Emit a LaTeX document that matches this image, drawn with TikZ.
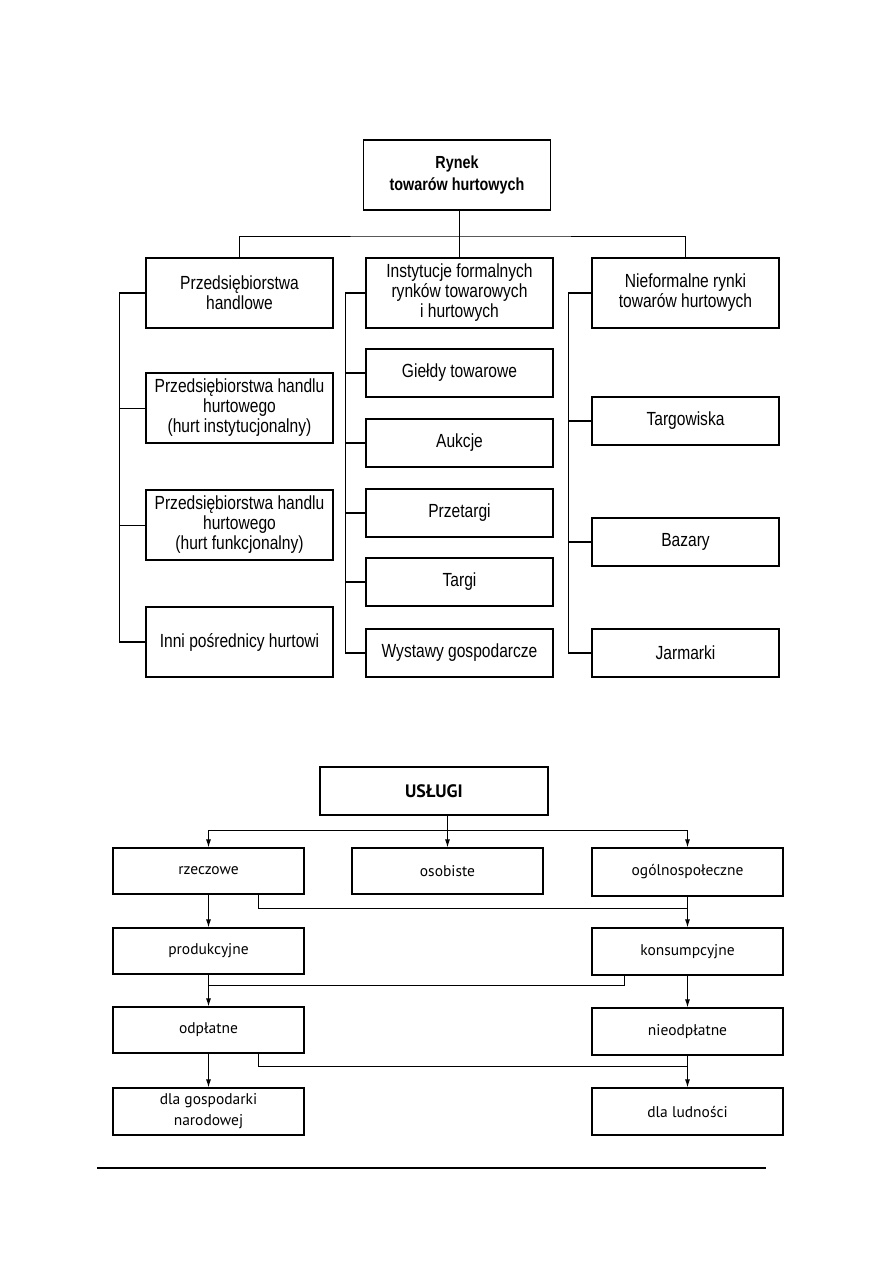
\documentclass[tikz,border=0pt]{standalone}
\usepackage{fontspec}
\newfontfamily\arialfont[FakeStretch=0.82]{Liberation Sans}
\newfontfamily\myriadfont{PT Sans}
\usetikzlibrary{arrows.meta,positioning,calc}

\begin{document}
\begin{tikzpicture}[
  x=1pt, y=-1pt,
  box/.style={draw, line width=1.2pt, align=center, minimum width=187pt, inner sep=2pt, font=\arialfont\fontsize{19}{20}\selectfont},
  tall/.style={box, minimum height=70pt},
  flat/.style={box, minimum height=48pt},
  rootbox/.style={tall, font=\arialfont\bfseries\fontsize{17.5}{22}\selectfont},
  ubox/.style={draw, line width=1.2pt, align=center, minimum width=191pt, minimum height=46pt, inner sep=2pt, font=\myriadfont\fontsize{15.5}{21}\selectfont},
  link/.style={line width=1pt},
  bar/.style={line width=1.8pt},
  arrow/.style={-{Latex[length=8pt,width=5pt]}, line width=1pt}
]
\useasboundingbox (0,0) rectangle (893,1263);

% rynek towarow hurtowych
\node[rootbox] (rynek) at (457,175) {Rynek\\towarów hurtowych};
\node[tall] (handl) at (239.5,293) {Przedsiębiorstwa\\handlowe};
\node[tall] (instyt) at (459.5,293) {Instytucje formalnych\\rynków towarowych\\i hurtowych};
\node[tall] (niefor) at (685.5,293) {Nieformalne rynki\\towarów hurtowych};
\coordinate (bus) at (459,236);
\draw[link] (bus |- rynek.south) -- (bus);
\draw[link] (handl.north) |- (bus) -| (niefor.north);
\draw[link] (bus) -- (bus -| instyt.north) -- (instyt.north);

\node[tall] (hinst) at (239.5,408) {Przedsiębiorstwa handlu\\hurtowego\\(hurt instytucjonalny)};
\node[tall] (hfunk) at (239.5,525) {Przedsiębiorstwa handlu\\hurtowego\\(hurt funkcjonalny)};
\node[tall] (inni) at (239.5,642) {Inni pośrednicy hurtowi};
\draw[bar] (handl.west) -- ++(-26,0) coordinate (lbar) -- (lbar |- inni.west) -- (inni.west);
\foreach \n in {hinst,hfunk} {\draw[link] (\n.west) -- (\n.west -| lbar);}

\node[flat] (gieldy) at (459.5,373) {Giełdy towarowe};
\node[flat] (aukcje) at (459.5,443) {Aukcje};
\node[flat] (przet) at (459.5,513) {Przetargi};
\node[flat] (targi) at (459.5,582) {Targi};
\node[flat] (wystawy) at (459.5,653) {Wystawy gospodarcze};
\draw[bar] (instyt.west) -- ++(-20,0) coordinate (mbar) -- (mbar |- wystawy.west) -- (wystawy.west);
\foreach \n in {gieldy,aukcje,przet,targi} {\draw[bar] (\n.west) -- (\n.west -| mbar);}

\node[flat] (targow) at (685.5,421) {Targowiska};
\node[flat] (bazary) at (685.5,542) {Bazary};
\node[flat] (jarm) at (685.5,653) {Jarmarki};
\draw[bar] (niefor.west) -- ++(-23,0) coordinate (rbar) -- (rbar |- jarm.west) -- (jarm.west);
\foreach \n in {targow,bazary} {\draw[bar] (\n.west) -- (\n.west -| rbar);}

% uslugi
\node[ubox, minimum width=228pt, minimum height=48pt, font=\myriadfont\bfseries\fontsize{18}{21}\selectfont] (uslugi) at (434,791) {USŁUGI};
\node[ubox] (rzecz) at (208.5,871) {rzeczowe};
\node[ubox] (osob) at (447.5,871) {osobiste};
\node[ubox, minimum height=48pt] (ogol) at (687.5,872) {ogólnospołeczne};
\coordinate (ubus) at (448,830);
\draw[arrow] (osob.north |- uslugi.south) -- (osob.north);
\draw[arrow] (ubus) -| (rzecz.north);
\draw[arrow] (ubus) -| (ogol.north);

\node[ubox] (prod) at (208.5,951) {produkcyjne};
\node[ubox, minimum height=47pt] (kons) at (687.5,951.5) {konsumpcyjne};
\coordinate (j1) at (687.5,908);
\draw[arrow] (rzecz) -- (prod);
\draw[arrow] (ogol) -- (kons);
\draw[link] ([xshift=50pt]rzecz.south) |- (j1);

\node[ubox] (odpl) at (208.5,1030) {odpłatne};
\node[ubox, minimum height=47pt] (nieodpl) at (687.5,1031.5) {nieodpłatne};
\coordinate (j2) at (208.5,985);
\draw[arrow] (prod) -- (odpl);
\draw[arrow] (kons) -- (nieodpl);
\draw[link] ([xshift=-63pt]kons.south) |- (j2);

\node[ubox, minimum height=47pt] (gosp) at (208.5,1111.5) {dla gospodarki\\narodowej};
\node[ubox, minimum height=47pt] (ludn) at (687.5,1111.5) {dla ludności};
\coordinate (j3) at (687.5,1066);
\draw[arrow] (odpl) -- (gosp);
\draw[arrow] (nieodpl) -- (ludn);
\draw[link] ([xshift=50pt]odpl.south) |- (j3);

\draw[line width=1.2pt] (97,1168) -- (766,1168);
\end{tikzpicture}
\end{document}
